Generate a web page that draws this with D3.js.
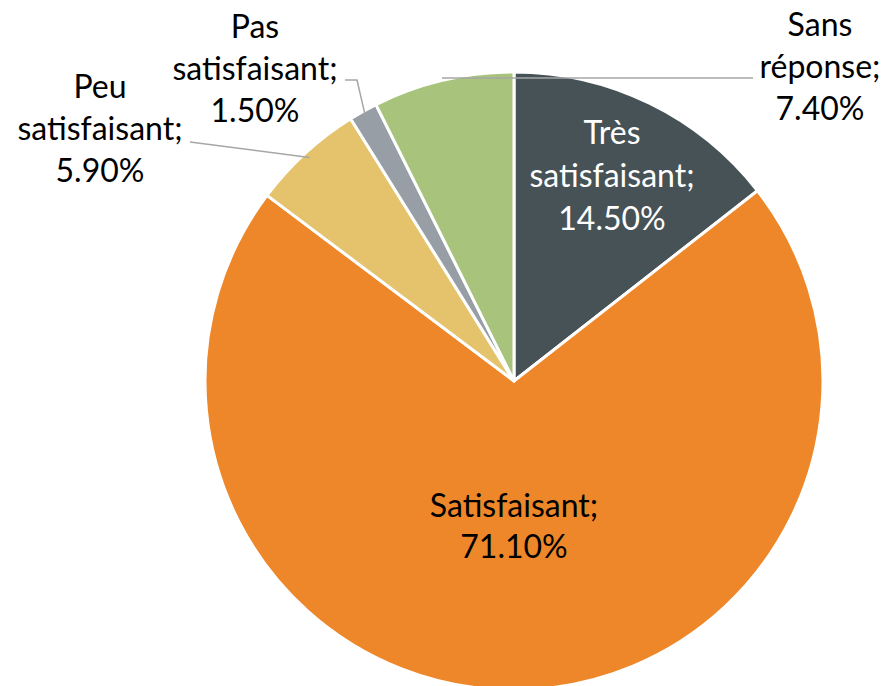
<!DOCTYPE html>
<html><head><meta charset="utf-8">
<script src="https://cdn.jsdelivr.net/npm/d3@7"></script>
<style>body{margin:0;background:#fff}svg{display:block}</style>
</head><body>
<svg id="c" width="894" height="686"></svg>
<script>
const categories = ["Très satisfaisant", "Satisfaisant", "Peu satisfaisant", "Pas satisfaisant", "Sans réponse"];
const values = [14.5, 71.1, 5.9, 1.5, 7.4];
const valueLabels = ["14.50%", "71.10%", "5.90%", "1.50%", "7.40%"];
const colors = ["#465256", "#ED8729", "#E5C36C", "#979EA6", "#A8C37B"];

const W = 894, H = 686, cx = 514, cy = 381, R = 309;
const svg = d3.select("#c");
const g = svg.append("g").attr("transform", `translate(${cx},${cy})`);
const data = categories.map((c, i) => ({cat: c, v: values[i], lab: valueLabels[i], col: colors[i]}));
const pie = d3.pie().value(d => d.v).sort(null);
const arcs = pie(data);
const arc = d3.arc().innerRadius(0).outerRadius(R);

g.selectAll("path").data(arcs).join("path")
  .attr("d", arc).attr("fill", d => d.data.col)
  .attr("stroke", "#fff").attr("stroke-width", 3).attr("stroke-linejoin", "round");

const font = "Lato, 'Open Sans', sans-serif";
const fs = 32, lh = 42;

// label placement (layout only, relative to chart centre)
const labelPos = [
  {x: 98, y: -237, lines: ["Très", "satisfaisant;"], fill: "#fff", lh: 43},
  {x: 0, y: 136, lines: ["Satisfaisant;"], fill: "#000", lh: 41},
  {x: -414, y: -283, lines: ["Peu", "satisfaisant;"], fill: "#000", lh: 42},
  {x: -259, y: -343, lines: ["Pas", "satisfaisant;"], fill: "#000", lh: 42},
  {x: 306, y: -345, lines: ["Sans", "réponse;"], fill: "#000", lh: 42}
];

arcs.forEach((a, i) => {
  const p = labelPos[i];
  const t = g.append("text").attr("text-anchor", "middle")
    .attr("font-family", font).attr("font-size", fs).attr("fill", p.fill);
  const lines = p.lines.concat([a.data.lab]);
  lines.forEach((s, k) => {
    t.append("tspan").attr("x", p.x).attr("y", p.y + k * p.lh).text(s);
  });
});

// leader lines: from slice edge to label
const lineColor = "#a6a6a6";
function edgePoint(a, frac, rr) {
  const ang = a.startAngle + (a.endAngle - a.startAngle) * frac;
  return [Math.sin(ang) * rr, -Math.cos(ang) * rr];
}
// Peu satisfaisant
{
  const p = edgePoint(arcs[2], 0.5, R - 6);
  g.append("path").attr("fill", "none").attr("stroke", lineColor).attr("stroke-width", 1.5)
    .attr("d", d3.line()([[p[0], p[1]], [-324, -239]]));
}
// Pas satisfaisant
{
  const p = edgePoint(arcs[3], 0.5, R - 4);
  g.append("path").attr("fill", "none").attr("stroke", lineColor).attr("stroke-width", 1.5)
    .attr("d", d3.line()([[p[0], p[1]], [-157, -301], [-169, -301]]));
}
// Sans réponse
{
  g.append("path").attr("fill", "none").attr("stroke", lineColor).attr("stroke-width", 1.5)
    .attr("d", d3.line()([[-72, -303], [239, -303]]));
}
</script>
</body></html>
